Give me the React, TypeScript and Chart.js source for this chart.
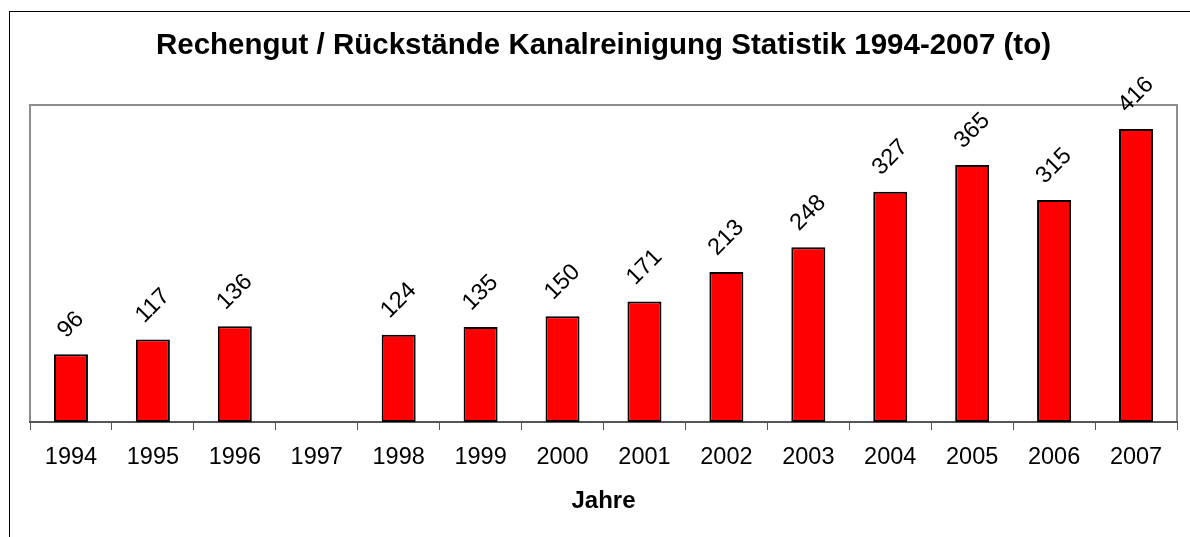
import React, { useEffect, useRef } from "react";
import { Chart, registerables } from "chart.js";

Chart.register(...registerables);

const years = ["1994", "1995", "1996", "1997", "1998", "1999", "2000", "2001", "2002", "2003", "2004", "2005", "2006", "2007"];
const tonnes: (number | null)[] = [96, 117, 136, null, 124, 135, 150, 171, 213, 248, 327, 365, 315, 416];
const titleText = "Rechengut / Rückstände Kanalreinigung Statistik 1994-2007 (to)";
const xAxisTitle = "Jahre";

const FONT = "'Liberation Sans', Arial, Helvetica, sans-serif";

const framePlugin = {
  id: "frame",
  beforeDraw(chart: any) {
    const { ctx, chartArea } = chart;
    ctx.save();
    ctx.fillStyle = "#ffffff";
    ctx.fillRect(0, 0, chart.width, chart.height);
    ctx.strokeStyle = "#000000";
    ctx.lineWidth = 1;
    ctx.strokeRect(9.5, 11.5, 2000, 2000);
    ctx.strokeStyle = "#8c8c8c";
    ctx.lineWidth = 2;
    ctx.strokeRect(chartArea.left, chartArea.top, chartArea.right - chartArea.left, chartArea.bottom - chartArea.top);
    ctx.restore();
  },
};

const labelPlugin = {
  id: "rotLabels",
  afterDatasetsDraw(chart: any) {
    const { ctx } = chart;
    const meta = chart.getDatasetMeta(0);
    const data = chart.data.datasets[0].data;
    const fs = 23.5;
    ctx.save();
    ctx.font = `${fs}px ${FONT}`;
    ctx.fillStyle = "#000000";
    ctx.textAlign = "center";
    ctx.textBaseline = "middle";
    meta.data.forEach((el: any, i: number) => {
      const v = data[i];
      if (v === null || v === undefined) return;
      const txt = String(v);
      const w = ctx.measureText(txt).width;
      const off = 12 + (w + fs) / (2 * Math.SQRT2);
      ctx.save();
      ctx.translate(el.x, el.y - off);
      ctx.rotate(-Math.PI / 4);
      ctx.fillText(txt, 0, 0);
      ctx.restore();
    });
    ctx.restore();
  },
};

export default function App() {
  const ref = useRef<HTMLCanvasElement>(null);
  useEffect(() => {
    document.body.style.margin = "0";
    const chart = new Chart(ref.current!, {
      type: "bar",
      data: {
        labels: years,
        datasets: [
          {
            data: tonnes,
            backgroundColor: "#ff0000",
            borderColor: "#000000",
            borderWidth: 2,
            borderSkipped: false,
            categoryPercentage: 1,
            barPercentage: 0.415,
          },
        ],
      },
      options: {
        responsive: false,
        animation: false,
        layout: { padding: { top: 0, left: 30, right: 13, bottom: 0 } },
        plugins: {
          legend: { display: false },
          tooltip: { enabled: false },
          title: {
            display: true,
            text: titleText,
            color: "#000000",
            font: { family: FONT, size: 29.5, weight: "bold", lineHeight: 1.2 },
            padding: { top: 28.3, bottom: 41.3 },
          },
        },
        scales: {
          y: { display: false, min: 0, max: 450 },
          x: {
            afterFit: (s: any) => {
              s.height = 115;
            },
            border: { display: true, color: "#555555", width: 2 },
            grid: { offset: true, drawOnChartArea: false, drawTicks: true, tickLength: 8, color: "#555555", lineWidth: 1 },
            ticks: { color: "#000000", font: { family: FONT, size: 23.5 }, padding: 13.4, maxRotation: 0 },
            title: {
              display: true,
              text: xAxisTitle,
              color: "#000000",
              font: { family: FONT, size: 24, weight: "bold", lineHeight: 1.2 },
              padding: { top: 0, bottom: 21.6 },
            },
          },
        },
      },
      plugins: [framePlugin, labelPlugin],
    });
    return () => chart.destroy();
  }, []);
  return (
    <div style={{ width: 1190, height: 537 }}>
      <canvas ref={ref} width={1190} height={537} />
    </div>
  );
}
